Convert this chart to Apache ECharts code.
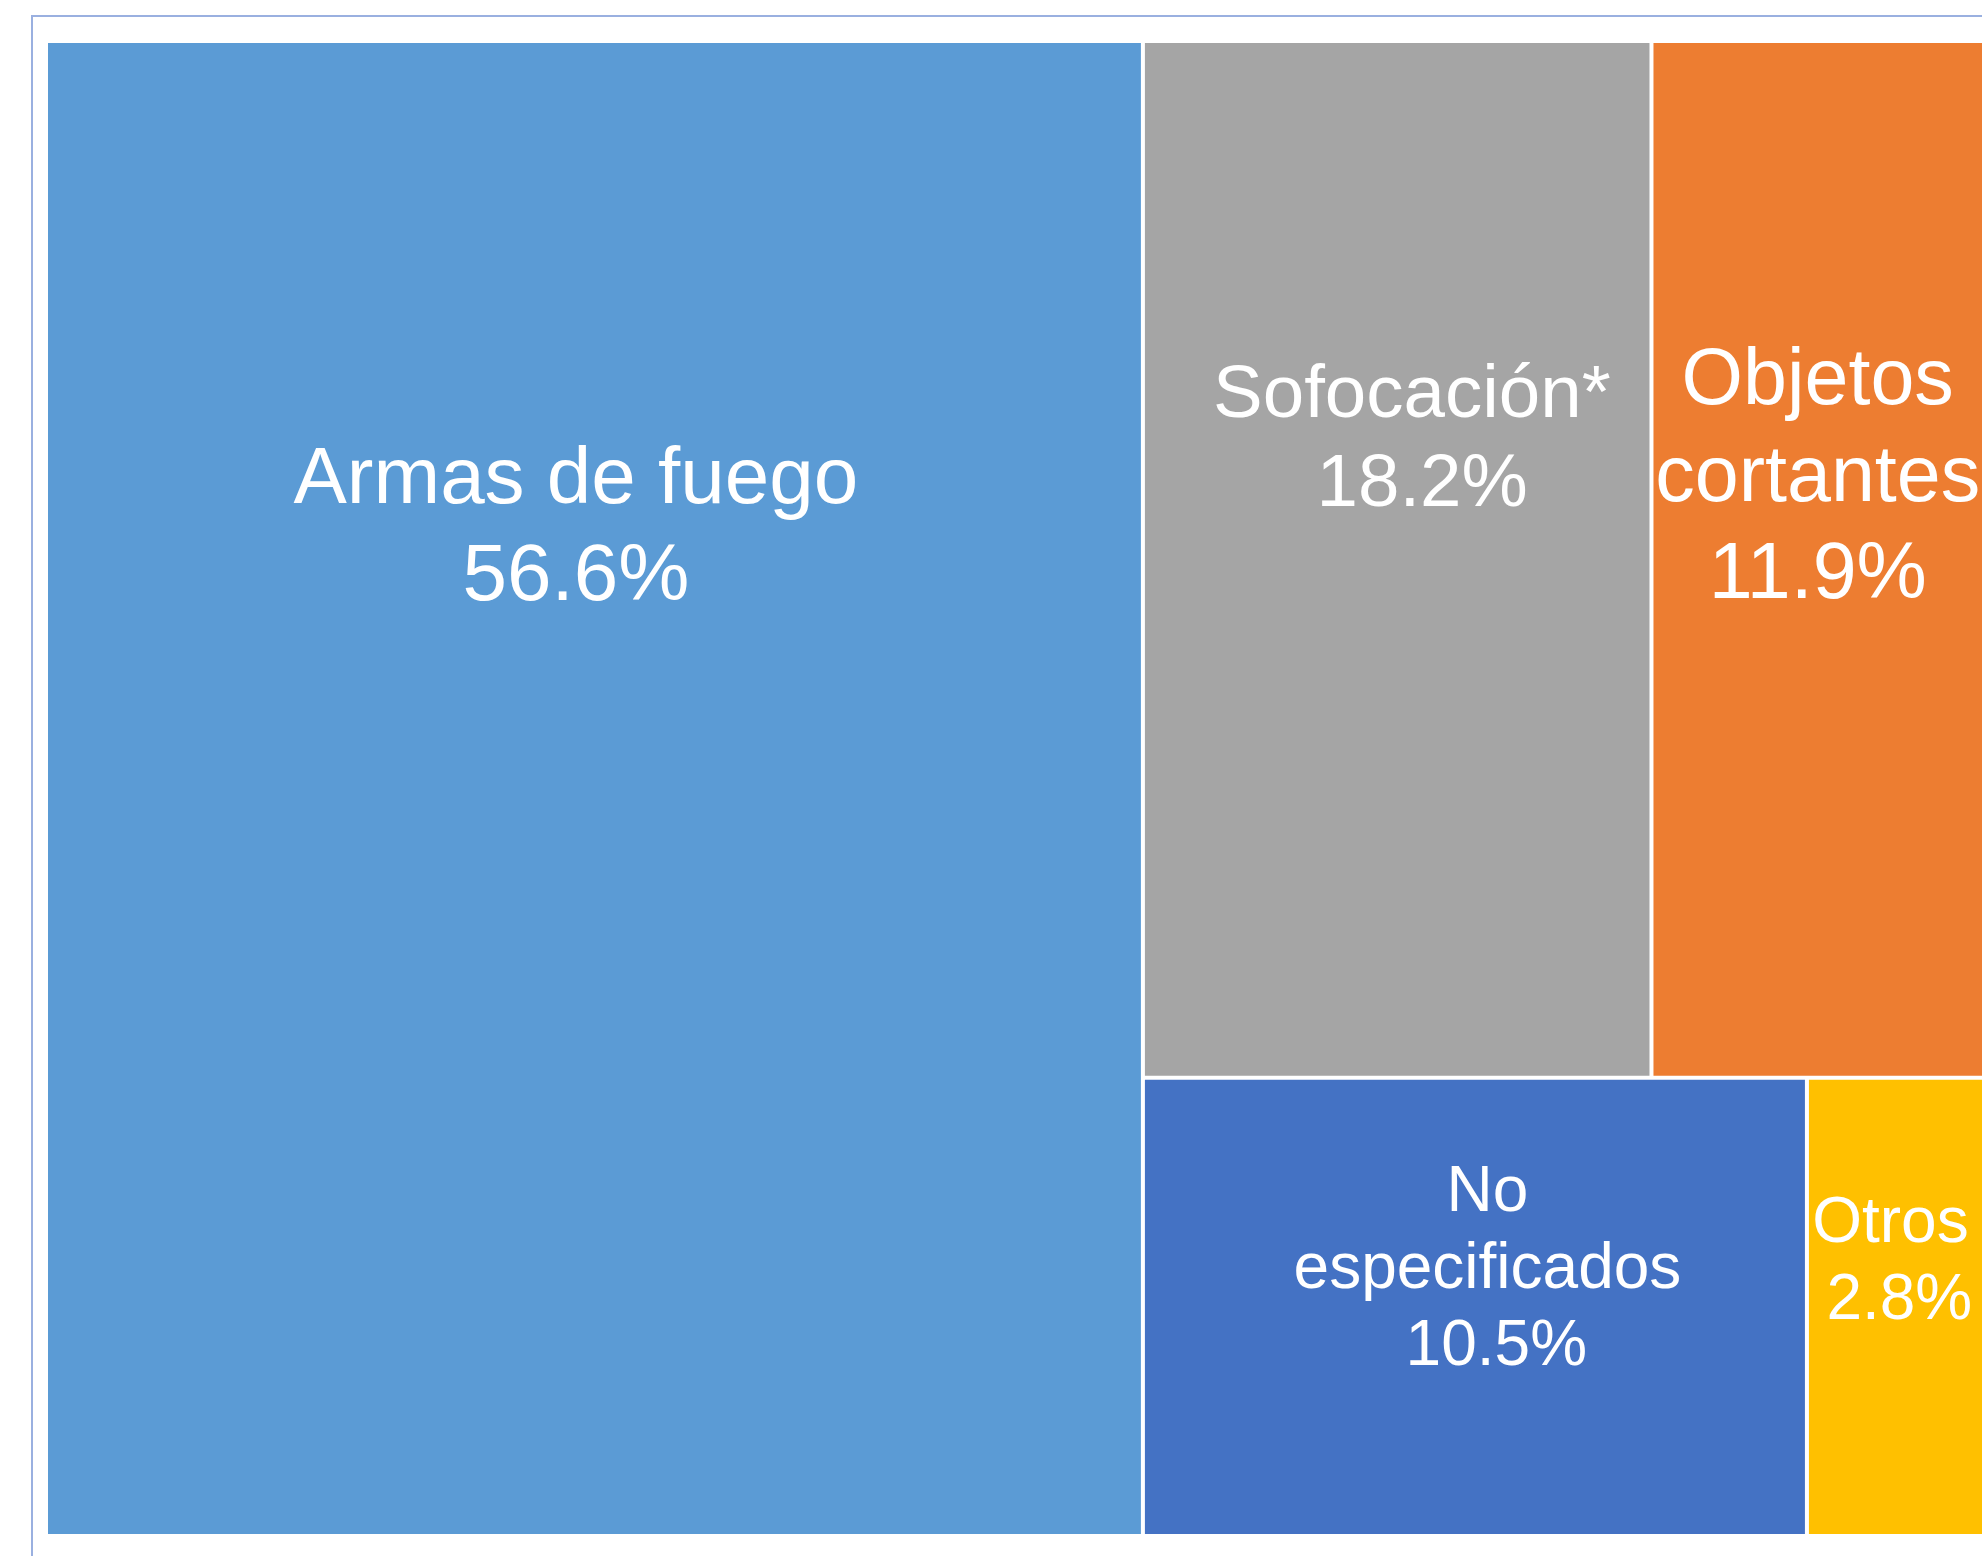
<!DOCTYPE html>
<html>
<head>
<meta charset="utf-8">
<script src="https://cdn.jsdelivr.net/npm/echarts@6/dist/echarts.min.js"></script>
<style>
  html, body { margin: 0; padding: 0; background: #fff; }
  #main { width: 1982px; height: 1556px; }
</style>
</head>
<body>
<div id="main"></div>
<script>
// categorias y porcentajes
var categories = ['Armas de fuego', 'Sofocación*', 'Objetos\ncortantes', 'No\nespecificados', 'Otros'];
var values = [56.6, 18.2, 11.9, 10.5, 2.8];
var colors = ['#5B9BD5', '#A5A5A5', '#ED7D31', '#4472C4', '#FFC000'];

// estilo de cada etiqueta (posicion relativa dentro del rectangulo, tamaño)
var labelPos = [['48.3%', '32.6%'], ['52.9%', '38.55%'], ['50%', '42.2%'], ['51.9%', '41.95%'], ['47.1%', '40.2%']];
var labelSize = [80, 74.5, 79, 64, 64];
var labelLine = [97, 89, 97, 77, 77];
// espacio inicial en la linea del porcentaje (como en la etiqueta original)
var leadSpace = [false, true, false, true, true];

var chart = echarts.init(document.getElementById('main'));

var data = categories.map(function (name, i) {
  return {
    name: name,
    value: values[i],
    itemStyle: { color: colors[i] },
    label: {
      position: labelPos[i],
      fontSize: labelSize[i],
      lineHeight: labelLine[i]
    }
  };
});

var option = {
  backgroundColor: '#fff',
  animation: false,
  graphic: [{
    type: 'rect',
    shape: { x: 32, y: 16, width: 2000, height: 1600 },
    style: { fill: 'none', stroke: '#9AB0E0', lineWidth: 2 },
    silent: true
  }],
  series: [{
    type: 'treemap',
    left: 48,
    top: 43,
    width: 1934,
    height: 1491,
    roam: false,
    nodeClick: false,
    breadcrumb: { show: false },
    sort: 'desc',
    label: {
      show: true,
      padding: 0,
      color: '#fff',
      fontFamily: 'Liberation Sans, Arial, sans-serif',
      align: 'center',
      verticalAlign: 'middle',
      overflow: 'none',
      formatter: function (p) {
        return p.name + '\n' + (leadSpace[p.dataIndex - 1] ? ' ' : '') + p.value.toFixed(1) + '%';
      }
    },
    levels: [
      { itemStyle: { gapWidth: 4, borderWidth: 0, borderColor: '#fff' } },
      { itemStyle: { borderWidth: 0 } }
    ],
    data: data
  }]
};

chart.setOption(option);
</script>
</body>
</html>
